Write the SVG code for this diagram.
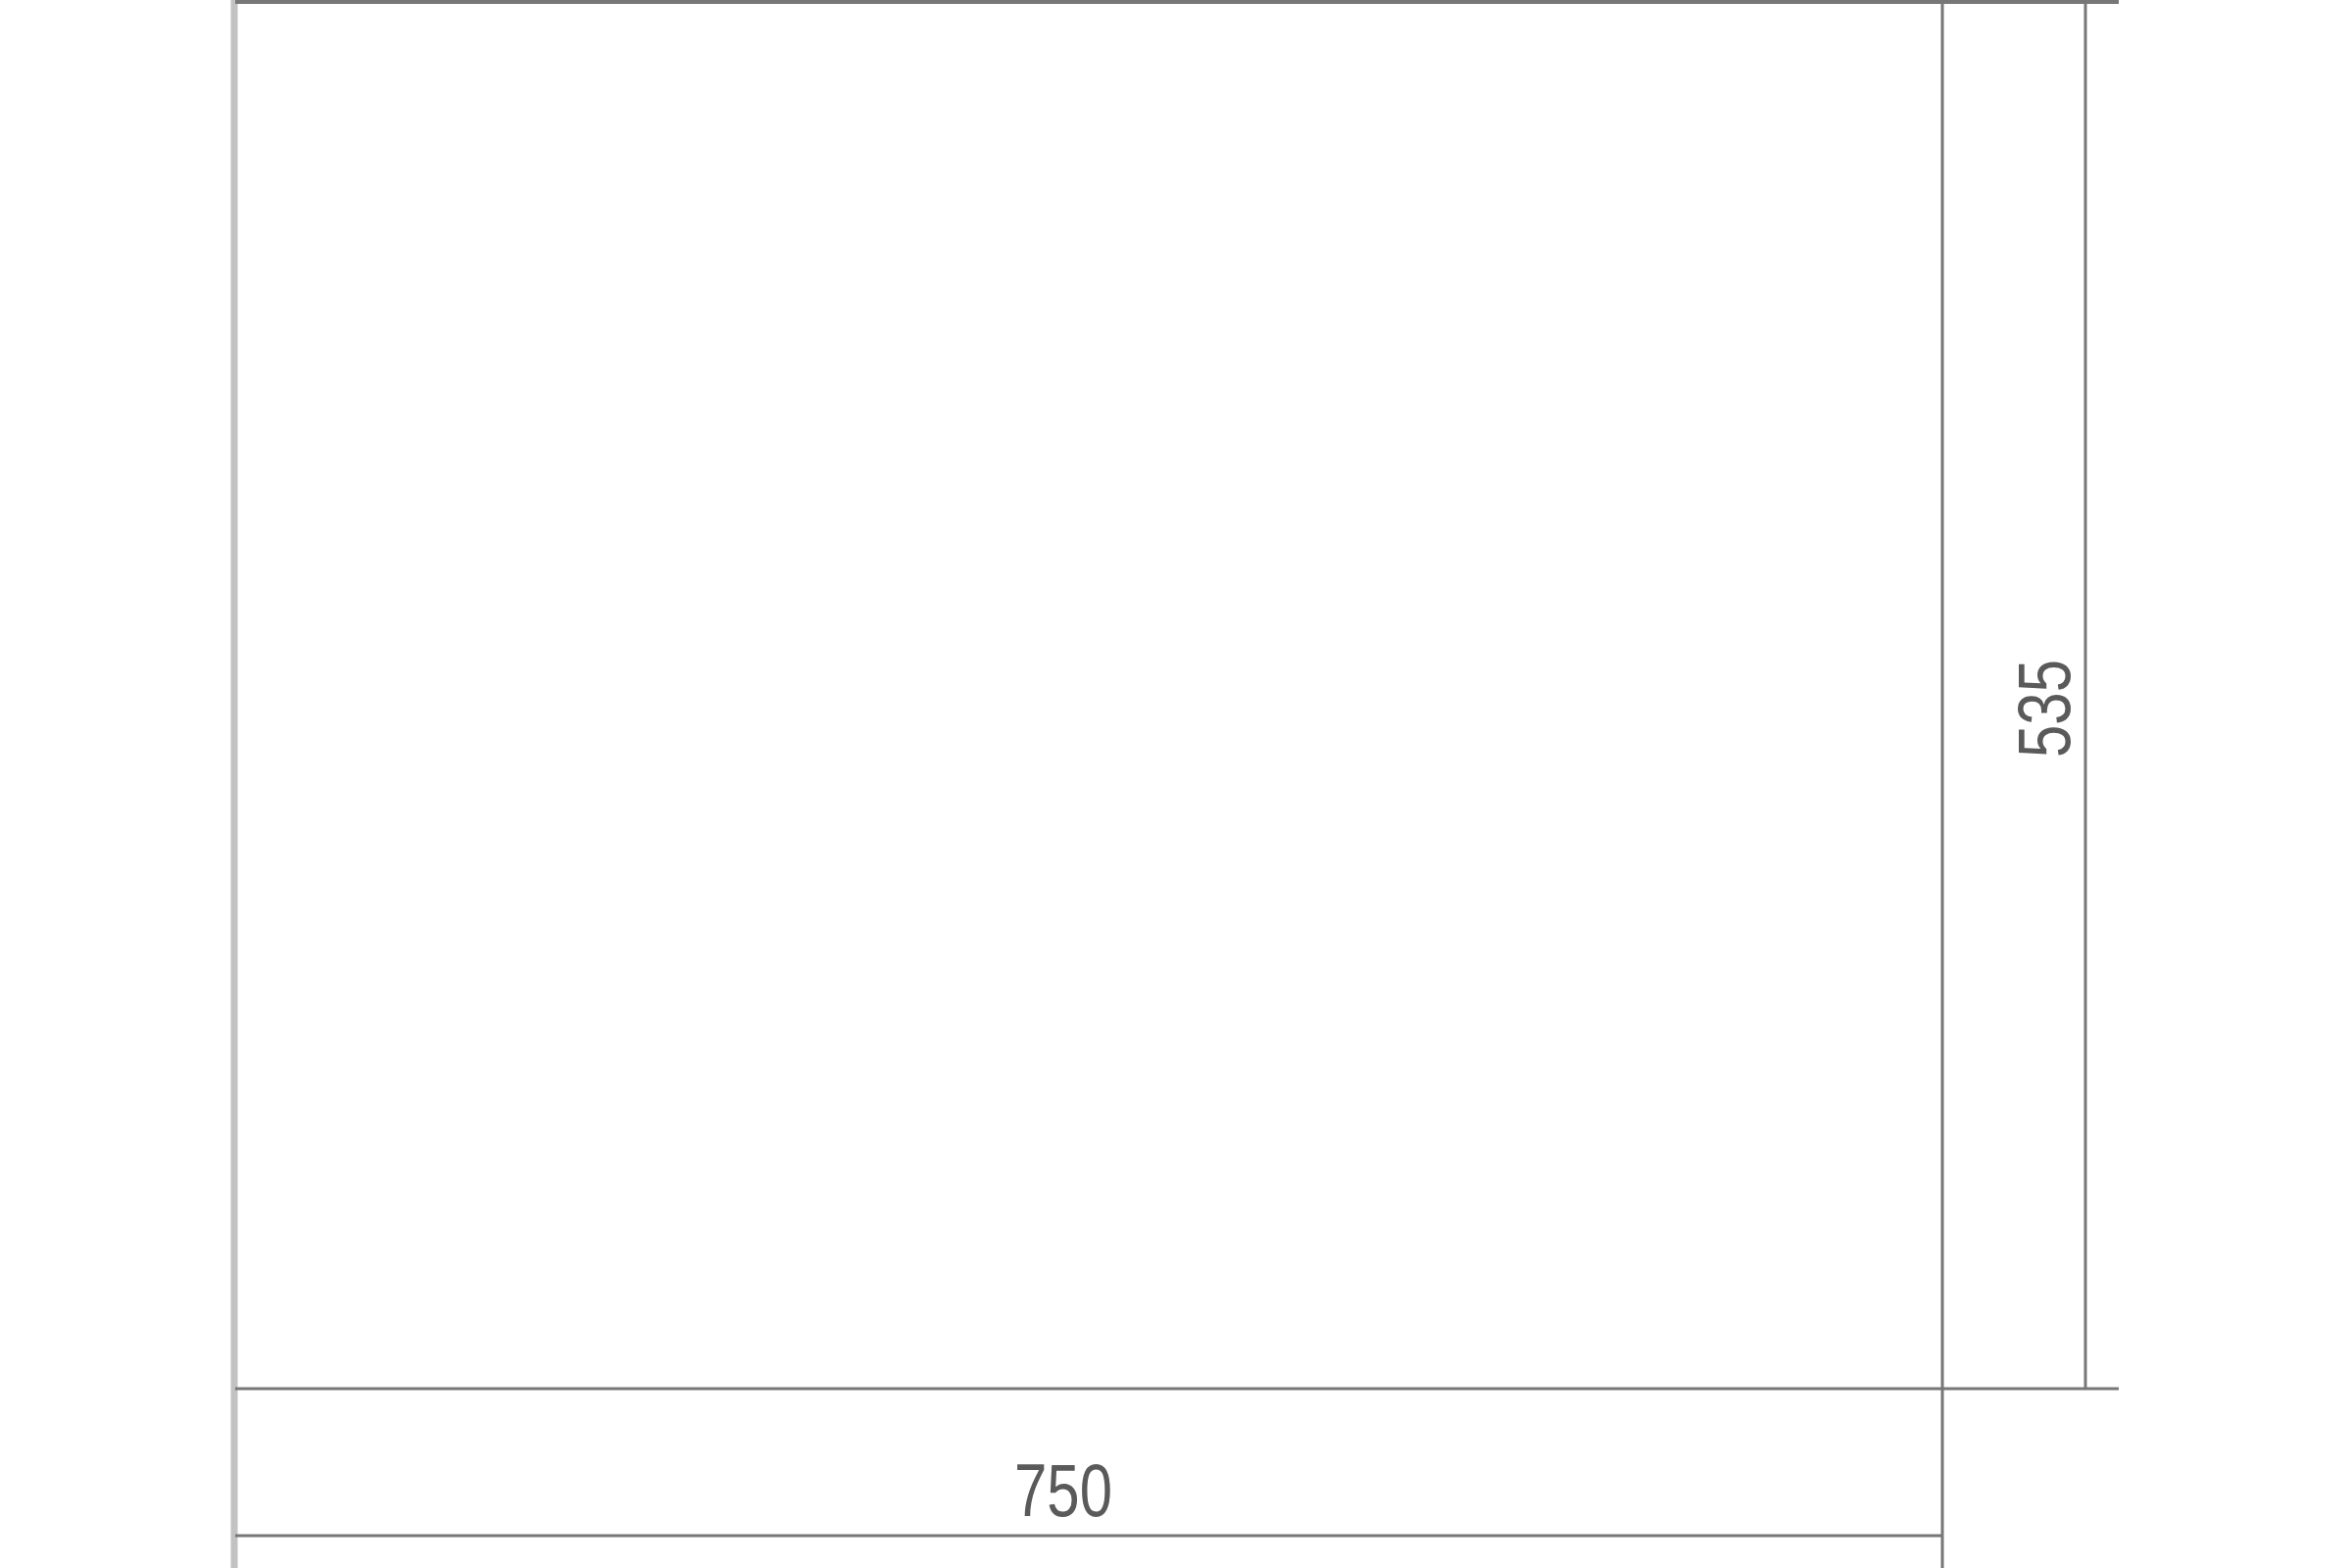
<svg xmlns="http://www.w3.org/2000/svg" width="2400" height="1600" viewBox="0 0 2400 1600">
<style>
.ln{stroke:#777;stroke-width:3;fill:none}
.edge{stroke:#c2c2c2;stroke-width:7;fill:none}
.dim{font-family:"Liberation Sans",Arial,sans-serif;font-size:76px;fill:#5a5a5a}
</style>
<rect width="2400" height="1600" fill="#fff"/>
<g id="outline">
<line class="edge" x1="239" y1="0" x2="239" y2="1600"/>
<line class="ln" x1="240" y1="2" x2="2162" y2="2" style="stroke-width:4"/>
<line class="ln" x1="1982" y1="0" x2="1982" y2="1600"/>
<line class="ln" x1="240" y1="1417" x2="2162" y2="1417"/>
</g>
<g id="dimensions">
<line class="ln" x1="2128" y1="0" x2="2128" y2="1417"/>
<line class="ln" x1="240" y1="1567" x2="1982" y2="1567"/>
</g>
<g id="labels">
<text class="dim" x="1035" y="1547" textLength="100" lengthAdjust="spacingAndGlyphs">750</text>
<text class="dim" transform="translate(2112,773) rotate(-90)" x="0" y="0" textLength="100" lengthAdjust="spacingAndGlyphs">535</text>
</g>
</svg>
